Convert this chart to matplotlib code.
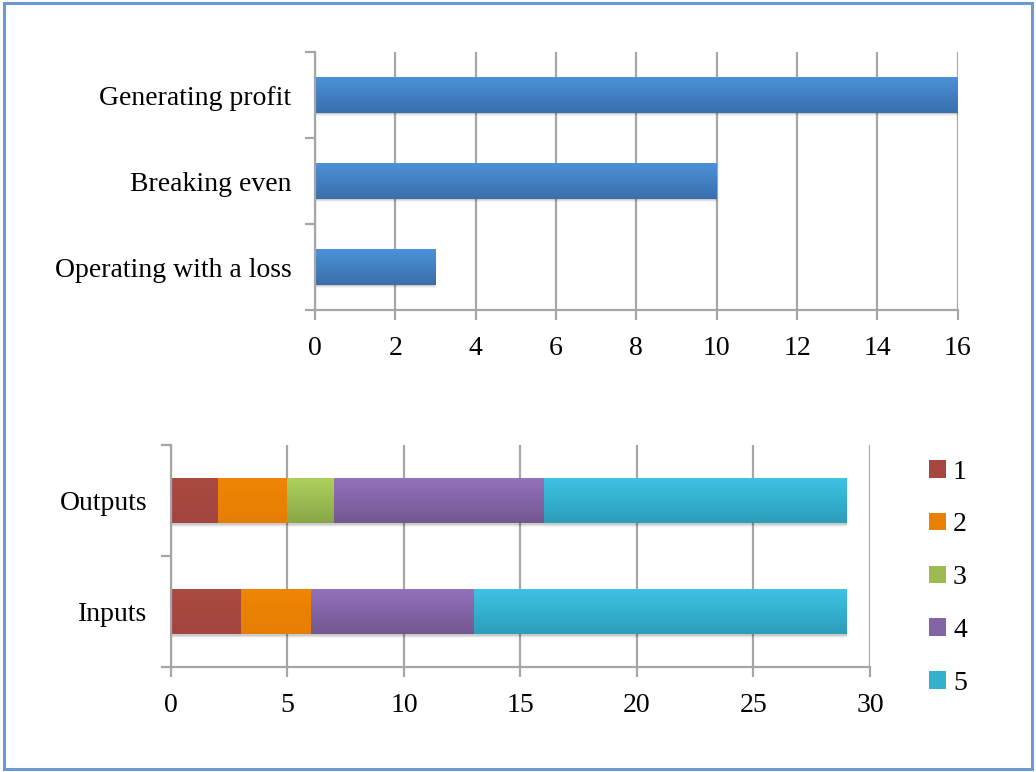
import matplotlib
matplotlib.use("Agg")
import matplotlib.pyplot as plt
import numpy as np
from matplotlib.colors import LinearSegmentedColormap
from matplotlib.patches import Rectangle

plt.rcParams["font.family"] = ["Liberation Serif", "DejaVu Serif"]

# top chart: financial status of the units
status_labels = ["Operating with a loss", "Breaking even", "Generating profit"]
status_counts = [3, 10, 16]

# bottom chart: ratings 1..5 for inputs / outputs
flow_labels = ["Inputs", "Outputs"]
rating_names = ["1", "2", "3", "4", "5"]
rating_counts = {
    "1": [3, 2],
    "2": [3, 3],
    "3": [0, 2],
    "4": [7, 9],
    "5": [16, 13],
}

FS = 20
GRID = "#a6a6a6"
# (top colour, bottom colour) of each gradient fill
BLUE = ("#4c93da", "#3a6eac")
RATING_COLORS = {
    "1": ("#aa4a42", "#a3453e"),
    "2": ("#f08404", "#e57f05"),
    "3": ("#aed15d", "#89a647"),
    "4": ("#9572bd", "#72578f"),
    "5": ("#3ec3e4", "#2b9ebb"),
}


def gradient_bars(ax, bars, colors):
    cmap = LinearSegmentedColormap.from_list("g", [colors[0], colors[1]])
    grad = np.linspace(0, 1, 64).reshape(-1, 1)
    for bar in bars:
        w = bar.get_width()
        if w <= 0:
            continue
        x0, y0 = bar.get_x(), bar.get_y()
        h = bar.get_height()
        # soft drop shadow under the bar
        for k, a in enumerate([0.10, 0.07, 0.04]):
            ax.add_patch(Rectangle((x0, y0 - 0.012 * (k + 1)), w, h, facecolor="black",
                                   alpha=a, linewidth=0, zorder=1.5))
        bar.set_facecolor(colors[0])
        im = ax.imshow(grad, cmap=cmap, aspect="auto", extent=(x0, x0 + w, y0, y0 + h),
                       origin="upper", zorder=2.5, interpolation="bilinear")
        im.set_clip_path(bar)


def style_axes(ax, n_cat):
    for side in ("top", "right"):
        ax.spines[side].set_visible(False)
    for side in ("left", "bottom"):
        ax.spines[side].set_color(GRID)
        ax.spines[side].set_linewidth(1.6)
    ax.set_ylim(-0.5, n_cat - 0.5)
    ax.set_yticks(np.arange(-0.5, n_cat, 1.0))
    ax.set_yticklabels([])
    ax.set_yticks(np.arange(n_cat), minor=True)
    ax.tick_params(axis="y", which="major", length=7, width=1.6, color=GRID, direction="out")
    ax.tick_params(axis="y", which="minor", length=0, labelsize=FS, pad=17)
    ax.tick_params(axis="x", length=7, width=1.6, color=GRID, direction="out", labelsize=FS, pad=12)
    ax.xaxis.grid(True, color=GRID, linewidth=1.6)
    ax.set_axisbelow(True)


fig = plt.figure(figsize=(10.36, 7.72), dpi=100)

# top chart
ax1 = fig.add_axes([0.304, 0.5984, 0.6205, 0.334])
y1 = np.arange(len(status_labels))
bars = ax1.barh(y1, status_counts, height=0.42, zorder=2, linewidth=0)
style_axes(ax1, len(status_labels))
ax1.set_yticklabels(status_labels, minor=True)
ax1.set_xlim(0, 16)
ax1.set_xticks(range(0, 17, 2))
gradient_bars(ax1, bars, BLUE)

# bottom chart, stacked
ax2 = fig.add_axes([0.165, 0.136, 0.6747, 0.2876])
y2 = np.arange(len(flow_labels))
left = np.zeros(len(flow_labels))
handles = []
for name in rating_names:
    vals = np.array(rating_counts[name], dtype=float)
    b = ax2.barh(y2, vals, left=left, height=0.41, zorder=2, linewidth=0, label=name)
    gradient_bars(ax2, b, RATING_COLORS[name])
    mid = LinearSegmentedColormap.from_list("m", list(RATING_COLORS[name]))(0.5)
    handles.append(Rectangle((0, 0), 1, 1, facecolor=mid, linewidth=0))
    left += vals
style_axes(ax2, len(flow_labels))
ax2.set_yticklabels(flow_labels, minor=True)
ax2.set_xlim(0, 30)
ax2.set_xticks(range(0, 31, 5))

fig.legend(handles, rating_names, loc="upper left", bbox_to_anchor=(0.873, 0.437),
           frameon=False, fontsize=FS, handlelength=0.6, handleheight=0.6,
           handletextpad=0.25, labelspacing=1.0)

# frame around the whole figure
fig.patches.append(Rectangle((0.004, 0.004), 0.992, 0.992, transform=fig.transFigure,
                             fill=False, edgecolor="#6c9ad0", linewidth=2.2))

fig.savefig("out.png", dpi=100)
